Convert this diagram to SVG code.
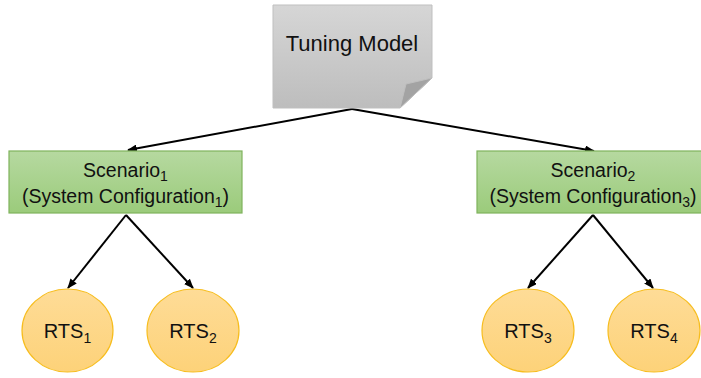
<svg xmlns="http://www.w3.org/2000/svg" width="701" height="378" viewBox="0 0 701 378">
  <defs>
    <linearGradient id="gGray" x1="0" y1="0" x2="0" y2="1">
      <stop offset="0" stop-color="#d6d6d6"/>
      <stop offset="1" stop-color="#bdbdbd"/>
    </linearGradient>
    <linearGradient id="gGreen" x1="0" y1="0" x2="0" y2="1">
      <stop offset="0" stop-color="#b6d9a0"/>
      <stop offset="1" stop-color="#9bcb7b"/>
    </linearGradient>
    <linearGradient id="gGold" x1="0" y1="0" x2="0" y2="1">
      <stop offset="0" stop-color="#fedc97"/>
      <stop offset="1" stop-color="#fdd279"/>
    </linearGradient>
    <marker id="arrow" markerWidth="10" markerHeight="8" refX="9" refY="4" orient="auto" markerUnits="userSpaceOnUse">
      <path d="M0,0 L10,4 L0,8 Z" fill="#000"/>
    </marker>
  </defs>
  <style>
    text { font-family: "Liberation Sans", Arial, sans-serif; fill: #111; text-anchor: middle; }
    .doc { fill: url(#gGray); stroke: #bfbfbf; stroke-width: 1; }
    .fold { fill: #a3a3a3; stroke: #bfbfbf; stroke-width: 1; }
    .scen { fill: url(#gGreen); stroke: #7fb35c; stroke-width: 1.2; }
    .rts { fill: url(#gGold); stroke: #f7bd1e; stroke-width: 1.2; }
    .conn { stroke: #000; stroke-width: 2; fill: none; marker-end: url(#arrow); }
    .t-main { font-size: 22px; }
    .t-scen { font-size: 19.5px; }
    .t-rts { font-size: 20px; }
    .sub { font-size: 14px; }
  </style>

  <g id="connectors">
    <line class="conn" x1="352" y1="109" x2="128" y2="150"/>
    <line class="conn" x1="352" y1="109" x2="594" y2="151"/>
    <line class="conn" x1="126" y1="215" x2="68" y2="288"/>
    <line class="conn" x1="126" y1="215" x2="193" y2="288"/>
    <line class="conn" x1="593" y1="215" x2="528" y2="288"/>
    <line class="conn" x1="593" y1="215" x2="653" y2="288"/>
  </g>

  <g id="tuning-model">
    <path class="doc" d="M273,5 H432 V78 L400,108 H273 Z"/>
    <path class="fold" d="M432,78 L400,108 L406,84 Z"/>
    <text class="t-main" x="352" y="51">Tuning Model</text>
  </g>

  <g id="scenario-1">
    <rect class="scen" x="9" y="151" width="233" height="62"/>
    <text class="t-scen" x="125.5" y="177">Scenario<tspan class="sub" dy="4">1</tspan></text>
    <text class="t-scen" x="125.5" y="203">(System Configuration<tspan class="sub" dy="4">1</tspan><tspan dy="-4">)</tspan></text>
  </g>

  <g id="scenario-2">
    <rect class="scen" x="477" y="151" width="233" height="62"/>
    <text class="t-scen" x="593" y="177">Scenario<tspan class="sub" dy="4">2</tspan></text>
    <text class="t-scen" x="593" y="203">(System Configuration<tspan class="sub" dy="4">3</tspan><tspan dy="-4">)</tspan></text>
  </g>

  <g id="rts-1">
    <ellipse class="rts" cx="67.5" cy="330.5" rx="45.5" ry="41.5"/>
    <text class="t-rts" x="67.5" y="338">RTS<tspan class="sub" dy="5">1</tspan></text>
  </g>
  <g id="rts-2">
    <ellipse class="rts" cx="193" cy="330.5" rx="46" ry="41.5"/>
    <text class="t-rts" x="193" y="338">RTS<tspan class="sub" dy="5">2</tspan></text>
  </g>
  <g id="rts-3">
    <ellipse class="rts" cx="528" cy="330.5" rx="46" ry="41.5"/>
    <text class="t-rts" x="528" y="338">RTS<tspan class="sub" dy="5">3</tspan></text>
  </g>
  <g id="rts-4">
    <ellipse class="rts" cx="654" cy="330.5" rx="46" ry="41.5"/>
    <text class="t-rts" x="654" y="338">RTS<tspan class="sub" dy="5">4</tspan></text>
  </g>
</svg>
